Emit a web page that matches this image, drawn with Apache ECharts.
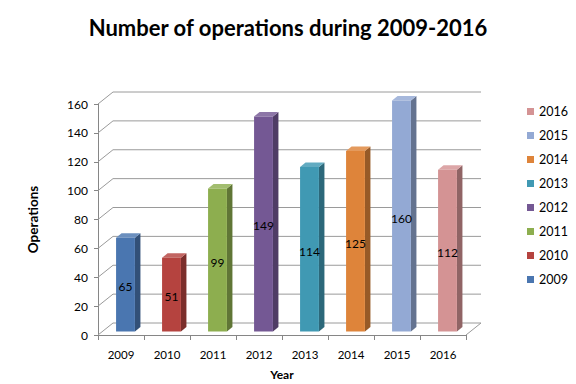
<!DOCTYPE html>
<html><head><meta charset="utf-8">
<script src="https://cdn.jsdelivr.net/npm/echarts@6/dist/echarts.min.js"></script>
<style>html,body{margin:0;padding:0;background:#fff}#c{width:576px;height:384px}</style>
</head><body><div id="c"></div>
<script>
const years = ['2009','2010','2011','2012','2013','2014','2015','2016'];
const operations = [65, 51, 99, 149, 114, 125, 160, 112];
const colors = ['#4A76B0','#B5433F','#8DAE4F','#745894','#4099B3','#DE843A','#93A9D4','#D49394'];
const yTicks = [0, 20, 40, 60, 80, 100, 120, 140, 160];

const FONT = 'Lato';
const WDX = 15, WDY = -12;           // wall depth offset
const BSX = 4.5, BSY = -3.5;         // bar front face offset inside depth
const BDX = 5.5, BDY = -4.5;         // bar depth

function shade(hex, f){
  const n = parseInt(hex.slice(1),16);
  let r=(n>>16)&255,g=(n>>8)&255,b=n&255;
  if(f<1){r*=f;g*=f;b*=f;} else {r=r+(255-r)*(f-1);g=g+(255-g)*(f-1);b=b+(255-b)*(f-1);}
  return 'rgb('+Math.round(r)+','+Math.round(g)+','+Math.round(b)+')';
}

function barRender(color){
  return function(params, api){
    const i = api.value(0), v = api.value(1);
    const top = api.coord([i, v]);
    const base = api.coord([i, 0]);
    const band = api.size([1, 0])[0];
    const fw = band * 0.41;
    const cx = top[0] + BSX;
    const l = cx - fw/2, r = cx + fw/2;
    const yt = top[1] + BSY, yb = base[1] + BSY;
    return {
      type: 'group',
      children: [
        {type:'polygon', shape:{points:[[r,yt],[r+BDX,yt+BDY],[r+BDX,yb+BDY],[r,yb]]}, style:{fill:shade(color,0.68)}},
        {type:'polygon', shape:{points:[[l,yt],[l+BDX,yt+BDY],[r+BDX,yt+BDY],[r,yt]]}, style:{fill:shade(color,1.18)}},
        {type:'rect', shape:{x:l, y:yt, width:fw, height:yb-yt}, style:{fill:color}},
        {type:'text', x:cx, y:(yt+yb)/2 + 2, style:{text:String(v), fill:'#000', font:'12px '+FONT, align:'center', verticalAlign:'middle'}}
      ]
    };
  };
}

function wallRender(params, api){
  const v = api.value(1);
  const p = api.coord([0, v]);
  const cs = params.coordSys;
  const x0 = cs.x, w = cs.width, y = p[1];
  const children = [
    {type:'polyline', shape:{points:[[x0,y],[x0+WDX,y+WDY],[x0+w+WDX,y+WDY]]}, style:{stroke:'#9a9a9a', lineWidth:1, fill:null}}
  ];
  if (v === 0) {
    children.push({type:'line', shape:{x1:x0+w, y1:y, x2:x0+w+WDX, y2:y+WDY}, style:{stroke:'#9a9a9a', lineWidth:1}});
  }
  return {type:'group', children};
}

const series = [{
  type:'custom', name:'walls', silent:true, z:1,
  data: yTicks.map(t => [0, t]),
  renderItem: wallRender
}];
years.forEach((y, i) => {
  series.push({
    type:'custom', name:y, z:2,
    itemStyle:{color:colors[i]},
    data:[[i, operations[i]]],
    renderItem: barRender(colors[i])
  });
});

const chart = echarts.init(document.getElementById('c'), null, {renderer:'svg'});
chart.setOption({
  backgroundColor:'#fff',
  animation:false,
  textStyle:{fontFamily:FONT},
  title:{
    text:'Number of operations during 2009-2016',
    left:'center', top:11,
    textStyle:{fontFamily:FONT, fontSize:22, fontWeight:'bold', color:'#000'}
  },
  legend:{
    data: years.slice().reverse(),
    orient:'vertical', left:522, top:100,
    icon:'rect', itemWidth:7, itemHeight:7, itemGap:11,
    textStyle:{fontFamily:FONT, fontSize:12.5, color:'#000'}
  },
  grid:{left:98, top:104, width:368, height:231, outerBoundsMode:'none', containLabel:false},
  xAxis:{
    type:'category', data: years,
    name:'Year', nameLocation:'middle', nameGap:33,
    nameTextStyle:{fontFamily:FONT, fontWeight:'bold', fontSize:12, color:'#000'},
    axisLine:{lineStyle:{color:'#868686'}},
    axisTick:{show:true, length:5, lineStyle:{color:'#868686'}},
    axisLabel:{fontFamily:FONT, fontSize:11.5, color:'#000', margin:13}
  },
  yAxis:{
    type:'value', min:0, max:160, interval:20,
    name:'Operations', nameLocation:'middle', nameGap:58, nameRotate:90,
    nameTextStyle:{fontFamily:FONT, fontWeight:'bold', fontSize:13.5, color:'#000'},
    axisLine:{show:true, lineStyle:{color:'#868686'}},
    axisTick:{show:true, length:4, lineStyle:{color:'#868686'}},
    axisLabel:{fontFamily:FONT, fontSize:12, color:'#000', margin:10},
    splitLine:{show:false}
  },
  series
});
</script></body></html>
